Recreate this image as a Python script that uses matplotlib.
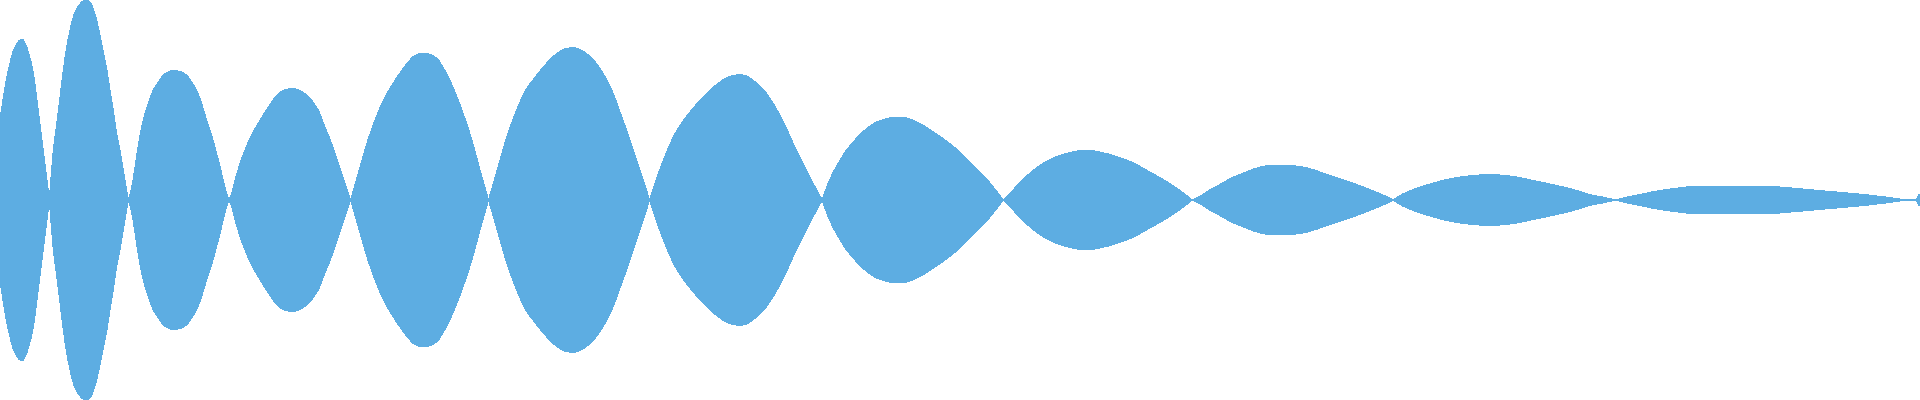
import matplotlib
matplotlib.use("Agg")
import matplotlib.pyplot as plt
from matplotlib.path import Path
from matplotlib.patches import PathPatch
import numpy as np

# Sample positions along the time axis (one line per lobe of the envelope)
positions = [
    0, 3.3, 6.7, 10, 13.3, 16.7, 20, 21.7, 25, 30, 33.3, 36.7, 40, 43.3, 46.7, 49.3,
    53.3, 56.7, 60, 63.3, 66.7, 70, 73.3, 76.7, 80, 83.3, 86, 90, 93.3, 96.7, 100, 103.3, 106.7, 110, 113.3, 116.7, 120, 123.3, 126.7, 128.3,
    131.7, 135, 138.3, 141.7, 145, 148.3, 151.7, 155, 158.3, 161.7, 166.7, 173.3, 180, 186.7, 191.7, 196.7, 201.7, 206.7, 211.7, 216.7, 221.7, 226.7, 229,
    231.7, 235, 240, 245, 250, 255, 260, 265, 271.7, 278.3, 285, 291.7, 298.3, 305, 311.7, 318.3, 325, 331.7, 338.3, 345, 350.7,
    360, 370, 383.3, 395, 406.7, 415, 423.3, 435, 446.7, 458.3, 470, 480, 488.5,
    493.3, 500, 506.7, 513.3, 520, 526.7, 533.3, 540, 546.7, 553.3, 560, 566.7, 573.3, 580, 586.7, 593.3, 600, 606.7, 613.3, 620, 626.7, 633.3, 640, 646.7, 649.3,
    653.3, 660, 666.7, 673.3, 680, 686.7, 693.3, 700, 706.7, 713.3, 720, 726.7, 733.3, 740, 746.7, 753.3, 760, 766.7, 773.3, 780, 786.7, 793.3, 800, 806.7, 813.3, 822.2,
    826.7, 833.3, 840, 846.7, 853.3, 860, 866.7, 873.3, 880, 886.7, 893.3, 903.3, 913.3, 923.3, 933.3, 943.3, 953.3, 963.3, 973.3, 983.3, 993.3, 1003.3,
    1010, 1020, 1030, 1040, 1050, 1060, 1070, 1080, 1090, 1100, 1110, 1120, 1130, 1140, 1150, 1160, 1170, 1180, 1192,
    1200, 1210, 1220, 1230, 1240, 1250, 1260, 1270, 1280, 1290, 1300, 1310, 1320, 1330, 1340, 1350, 1360, 1370, 1380, 1390, 1393.3,
    1403.3, 1420, 1436.7, 1450, 1466.7, 1490, 1513.3, 1533.3, 1556.7, 1576.7, 1593.3, 1600, 1615,
    1626.7, 1643.3, 1660, 1676.7, 1693.3, 1733, 1770, 1800, 1826.7, 1856.7, 1886.7, 1906.7, 1916, 1919.5, 1920,
]

# Envelope amplitude at each sample (mirrored above and below the centre line)
amplitudes = [
    81, 102, 122, 137, 149, 156, 160, 161, 157, 142, 127, 102, 76, 49, 22, 0,
    49.5, 76, 103, 129.5, 153, 169.5, 183, 191, 196, 199, 200, 198, 191, 179.5, 164.5, 148, 131, 109.5, 89.5, 66, 49.5, 29.5, 9.5, 0,
    12.8, 32.8, 54.5, 72.8, 86.2, 96.2, 106.2, 112.8, 117.8, 122.8, 127.2, 129.5, 128.5, 124.5, 117.8, 109.5, 96.2, 79.5, 64.5, 46.2, 26.2, 6.2, 0,
    6.2, 19.5, 36.2, 50, 61.5, 71.2, 79.5, 87.8, 97.8, 106.2, 110.2, 111.5, 110.2, 106.2, 99.5, 89.5, 72.8, 56.2, 36.2, 16.2, 0,
    33, 66, 99.5, 119.5, 136, 144.5, 147, 143, 126, 99.5, 66, 30, 0,
    16.2, 39.5, 62.8, 81.2, 97.8, 111.2, 120.2, 128.8, 136.8, 143.5, 148.5, 151.5, 152.2, 150.2, 146.2, 140.2, 131.2, 120.2, 106.2, 87.8, 69.5, 49.5, 29.5, 9.5, 0,
    11.2, 31, 48, 62.8, 74.5, 83.8, 91.8, 99.5, 106.2, 112.8, 117.8, 122.2, 124.5, 125.2, 123.8, 119.5, 113.8, 106.2, 96.2, 84.5, 71.2, 56.2, 42.8, 29.5, 16.2, 0,
    12.8, 27.8, 39.5, 50.2, 57.8, 65.5, 71.2, 76.2, 79.2, 81.2, 82.5, 82.5, 79.5, 74.5, 67.8, 61.2, 53.5, 44.5, 34.5, 24.5, 12.8, 0,
    6.2, 17.8, 26.8, 34.5, 40.5, 44.5, 47.5, 49.2, 49.5, 47.8, 45.5, 42.2, 38.5, 33.5, 27.8, 22.2, 16.2, 9.5, 0,
    3.5, 10.2, 15.5, 21.2, 25.5, 29.5, 32.8, 34.5, 35, 34.5, 33.5, 31.2, 28, 24.6, 21.2, 17.8, 14.2, 10.4, 6.2, 1.8, 0,
    6.2, 12.8, 17.8, 21.2, 23.8, 25.5, 23.5, 19.5, 14.5, 9.5, 4.5, 3.5, 0,
    2.8, 6.2, 9.5, 11.8, 13.5, 14, 13.5, 11.2, 8.8, 6.2, 2.8, 0, 0.5, 6, 6,
]

FILL_COLOR = "#5DADE2"


def smooth_tangents(x, y):
    """Monotone (Fritsch-Carlson) tangents; zero-amplitude samples are cusps."""
    h = np.diff(x)
    d = np.diff(y) / h
    n = len(x)
    left = np.zeros(n)
    right = np.zeros(n)
    for i in range(n):
        if i == 0:
            left[i] = right[i] = d[0]
            continue
        if i == n - 1:
            left[i] = right[i] = d[-1]
            continue
        if y[i] == 0:
            left[i] = d[i - 1]
            right[i] = d[i]
            continue
        d0, d1 = d[i - 1], d[i]
        if d0 * d1 <= 0:
            m = 0.0
        else:
            w1 = 2 * h[i] + h[i - 1]
            w2 = h[i] + 2 * h[i - 1]
            m = (w1 + w2) / (w1 / d0 + w2 / d1)
        left[i] = right[i] = m
    return left, right


def envelope_path(x, y):
    left, right = smooth_tangents(x, y)
    verts = [(x[0], y[0])]
    codes = [Path.MOVETO]
    for i in range(len(x) - 1):
        hh = x[i + 1] - x[i]
        verts += [(x[i] + hh / 3, y[i] + right[i] * hh / 3),
                  (x[i + 1] - hh / 3, y[i + 1] - left[i + 1] * hh / 3),
                  (x[i + 1], y[i + 1])]
        codes += [Path.CURVE4] * 3
    verts.append((x[-1], -y[-1]))
    codes.append(Path.LINETO)
    for i in range(len(x) - 1, 0, -1):
        hh = x[i] - x[i - 1]
        verts += [(x[i] - hh / 3, -(y[i] - left[i] * hh / 3)),
                  (x[i - 1] + hh / 3, -(y[i - 1] + right[i - 1] * hh / 3)),
                  (x[i - 1], -y[i - 1])]
        codes += [Path.CURVE4] * 3
    verts.append((x[0], y[0]))
    codes.append(Path.CLOSEPOLY)
    return Path(verts, codes)


x = np.array(positions, dtype=float)
a = np.array(amplitudes, dtype=float)
assert len(x) == len(a)

fig = plt.figure(figsize=(19.2, 4.0), dpi=100)
ax = fig.add_axes([0, 0, 1, 1])
patch = PathPatch(envelope_path(x, a), facecolor=FILL_COLOR, edgecolor="none",
                  linewidth=0, antialiased=False)
ax.add_patch(patch)
ax.set_xlim(0, 1920)
ax.set_ylim(-200, 200)
ax.axis("off")
fig.savefig("out.png", dpi=100, facecolor="white")
